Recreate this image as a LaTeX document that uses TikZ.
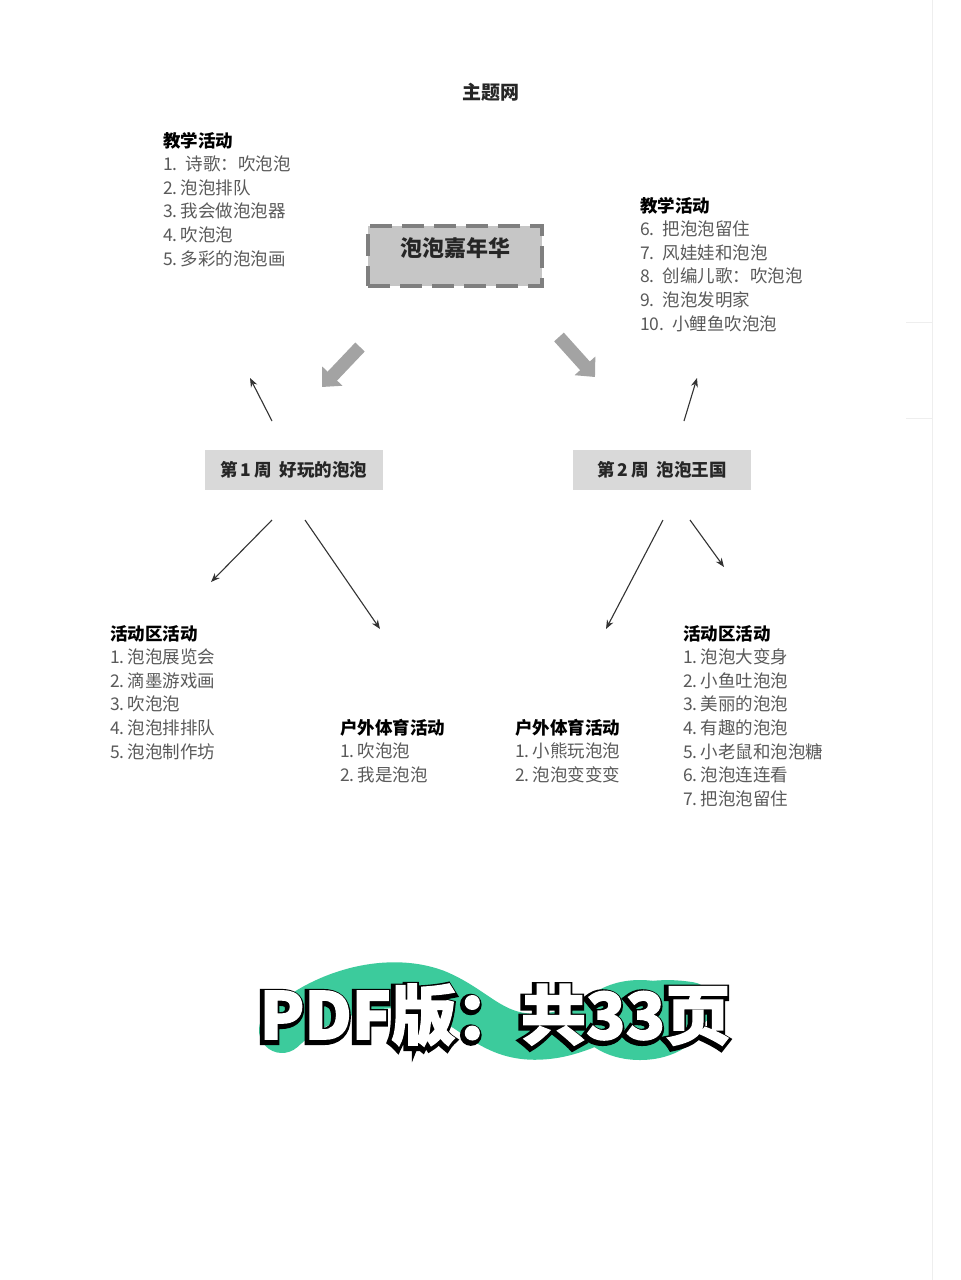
\documentclass[tikz,border=0pt]{standalone}
\usepackage{fontspec}
\setmainfont{Noto Sans CJK SC}
\newfontfamily\bannerout{Noto Sans CJK SC}[BoldFeatures={FakeBold=12}]
\newfontfamily\bannerin{Noto Sans CJK SC}[BoldFeatures={FakeBold=2}]
\usetikzlibrary{arrows.meta}
\definecolor{itemgray}{HTML}{5A5A5A}
\definecolor{boxgray}{HTML}{C6C6C6}
\definecolor{dashgray}{HTML}{7F7F7F}
\definecolor{weekgray}{HTML}{D9D9D9}
\definecolor{blockgray}{HTML}{A3A3A3}
\definecolor{brushgreen}{HTML}{3CCB9C}
\definecolor{faint}{HTML}{EEEEEE}
\begin{document}
\begin{tikzpicture}[x=1pt,y=-1pt,
  heading/.style={font=\fontsize{17.5}{20}\selectfont\bfseries, text=black, inner sep=0pt, anchor=base west},
  item/.style={font=\fontsize{17.5}{20}\selectfont, text=itemgray, inner sep=0pt, anchor=base west},
  weekbox/.style={fill=weekgray, minimum width=178pt, minimum height=40pt, inner sep=0pt, font=\fontsize{17.5}{20}\selectfont\bfseries, text=black!85},
  thinarrow/.style={draw=black!80, line width=1.1pt, -{Stealth[length=9pt,width=7pt]}},
  blockarrow/.style={draw=blockgray, line width=13pt, -{Triangle[length=15pt,width=27pt]}},
  banner/.style={inner sep=0pt}
]
\useasboundingbox (0,0) rectangle (961,1280);
\fill[white] (0,0) rectangle (961,1280);
% faint page edge
\draw[faint, line width=1pt] (932,0) -- (932,1280);
\draw[faint, line width=1pt] (906,322) -- (932,322) -- (932,418) -- (906,418);

% title
\node[font=\fontsize{19}{22}\selectfont\bfseries, text=black!85, inner sep=0pt] (title) at (491,92) {主题网};

% central box
\node[fill=boxgray, draw=dashgray, line width=4pt, dash pattern=on 22pt off 10pt,
      minimum width=174pt, minimum height=60pt, inner sep=0pt] (main) at (455,256) {};
\node[font=\fontsize{22}{26}\selectfont\bfseries, text=black!85, inner sep=0pt] (maintext) at (455,248) {泡泡嘉年华};

% block arrows
\coordinate (bl1) at (360,347);
\coordinate (bl2) at (322,387);
\coordinate (br1) at (559,337);
\coordinate (br2) at (595,377);
\draw[blockarrow] (bl1) -- (bl2);
\draw[blockarrow] (br1) -- (br2);

% top-left list
\node[heading] (tlh) at (163,147) {教学活动};
\foreach \t [count=\i] in {1.\ \ 诗歌：吹泡泡, 2.\,泡泡排队, 3.\,我会做泡泡器, 4.\,吹泡泡, 5.\,多彩的泡泡画}
  \node[item] (tl\i) at (163,{147+23.6*\i}) {\t};

% top-right list
\node[heading] (trh) at (640,212) {教学活动};
\foreach \t [count=\i] in {6.\ \ 把泡泡留住, 7.\ \ 风娃娃和泡泡, 8.\ \ 创编儿歌：吹泡泡, 9.\ \ 泡泡发明家, 10.\ \ 小鲤鱼吹泡泡}
  \node[item] (tr\i) at (640,{212+23.6*\i}) {\t};

% week boxes
\node[weekbox] (w1) at (294,470) {第\,1\,周\ \ 好玩的泡泡};
\node[weekbox] (w2) at (662,470) {第\,2\,周\ \ 泡泡王国};

% thin arrows
\coordinate (a1s) at (272,421); \coordinate (a1e) at (250,378);
\coordinate (a2s) at (684,421); \coordinate (a2e) at (697,378);
\coordinate (a3s) at (272,520); \coordinate (a3e) at (211,582);
\coordinate (a4s) at (305,520); \coordinate (a4e) at (380,629);
\coordinate (a5s) at (663,520); \coordinate (a5e) at (606,629);
\coordinate (a6s) at (690,520); \coordinate (a6e) at (724,567);
\foreach \k in {1,...,6} \draw[thinarrow] (a\k s) -- (a\k e);

% bottom-left activity area
\node[heading] (alh) at (110,640) {活动区活动};
\foreach \t [count=\i] in {1.\,泡泡展览会, 2.\,滴墨游戏画, 3.\,吹泡泡, 4.\,泡泡排排队, 5.\,泡泡制作坊}
  \node[item] (al\i) at (110,{640+23.6*\i}) {\t};

% outdoor left
\node[heading] (olh) at (340,734) {户外体育活动};
\foreach \t [count=\i] in {1.\,吹泡泡, 2.\,我是泡泡}
  \node[item] (ol\i) at (340,{734+23.6*\i}) {\t};

% outdoor right
\node[heading] (orh) at (515,734) {户外体育活动};
\foreach \t [count=\i] in {1.\,小熊玩泡泡, 2.\,泡泡变变变}
  \node[item] (or\i) at (515,{734+23.6*\i}) {\t};

% bottom-right activity area
\node[heading] (arh) at (683,640) {活动区活动};
\foreach \t [count=\i] in {1.\,泡泡大变身, 2.\,小鱼吐泡泡, 3.\,美丽的泡泡, 4.\,有趣的泡泡, 5.\,小老鼠和泡泡糖, 6.\,泡泡连连看, 7.\,把泡泡留住}
  \node[item] (ar\i) at (683,{640+23.6*\i}) {\t};

% banner brush
\draw[brushgreen, line width=46pt, line cap=round]
  (282,1030) .. controls (320,994) and (385,974) .. (435,992)
  .. controls (480,1010) and (495,1045) .. (555,1035)
  .. controls (600,1027) and (630,995) .. (690,1005);
\fill[brushgreen] (640,1020) ellipse (62pt and 40pt);

% banner text: black emboldened copy as outline and shadow, white on top
\node[banner, text=black, font=\bannerout\fontsize{65}{70}\selectfont\bfseries] (bannershadow) at (493.5,1017) {PDF版：共33页};
\node[banner, text=white, font=\bannerin\fontsize{65}{70}\selectfont\bfseries] (banner) at (495,1015) {PDF版：共33页};
\end{tikzpicture}
\end{document}
